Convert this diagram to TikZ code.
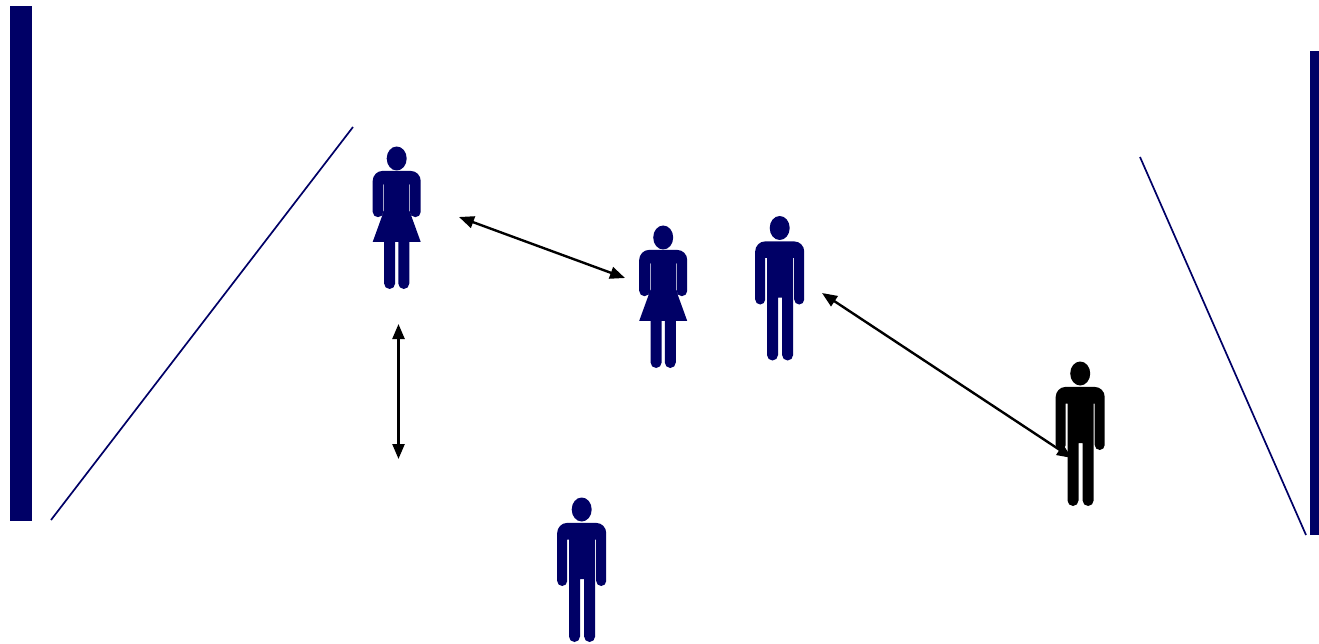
\documentclass[tikz,border=0pt]{standalone}
\usetikzlibrary{arrows.meta}
\definecolor{navy}{HTML}{000066}
\tikzset{
  x=1pt,y=-1pt,
  bar/.style={fill=navy,draw=none},
  wall/.style={draw=navy,line width=1.7pt},
  link/.style={draw=black,line width=2.4pt,{Triangle[length=15pt,width=12pt]}-{Triangle[length=15pt,width=12pt]}},
  pics/woman/.style={code={
    \fill[pic actions] (0,0) ellipse [x radius=10,y radius=12];
    \fill[pic actions] (-14,12.4) -- (14,12.4) arc[start angle=-90,end angle=0,radius=10]
      -- (24,53.4) arc[start angle=0,end angle=180,radius=5.3]
      -- (13.4,26) -- (12.6,26) -- (12.6,52) -- (24,83.4) -- (12.6,83.4) -- (12.6,125)
      arc[start angle=0,end angle=180,radius=5.5] -- (1.6,83.4) -- (-1.6,83.4) -- (-1.6,125)
      arc[start angle=0,end angle=180,radius=5.5] -- (-12.6,83.4) -- (-24,83.4) -- (-12.6,52)
      -- (-12.6,26) -- (-13.4,26) -- (-13.4,53.4)
      arc[start angle=0,end angle=180,radius=5.3] -- (-24,22.4)
      arc[start angle=180,end angle=270,radius=10] -- cycle;
  }},
  pics/man/.style={code={
    \fill[pic actions] (0,0) ellipse [x radius=10,y radius=12];
    \fill[pic actions] (-14.5,13.4) -- (14.5,13.4) arc[start angle=-90,end angle=0,radius=10]
      -- (24.5,71.5) arc[start angle=0,end angle=180,radius=5]
      -- (14.5,30) -- (13.4,30) -- (13.4,127)
      arc[start angle=0,end angle=180,radius=5.5] -- (2.4,69.7) -- (-1.7,69.7) -- (-1.7,127)
      arc[start angle=0,end angle=180,radius=5.5] -- (-12.7,30) -- (-14.5,30) -- (-14.5,71.5)
      arc[start angle=0,end angle=180,radius=5] -- (-24.5,23.4)
      arc[start angle=180,end angle=270,radius=10] -- cycle;
  }},
}
\begin{document}
\begin{tikzpicture}
\useasboundingbox (0,0) rectangle (1319,644);
\fill[bar] (10,6) rectangle (32,521);
\fill[bar] (1310,51) rectangle (1319,535);
\coordinate (wa1) at (51,520); \coordinate (wa2) at (353,127);
\coordinate (wb1) at (1140,157); \coordinate (wb2) at (1306,535);
\draw[wall] (wa1) -- (wa2);
\draw[wall] (wb1) -- (wb2);
\pic[fill=navy] (w1) at (396.7,158.5) {woman};
\pic[fill=navy] (w2) at (663.2,237.5) {woman};
\pic[fill=navy] (m1) at (779.7,228) {man};
\pic[fill=navy] (m2) at (581.7,509.5) {man};
\pic[fill=black] (m3) at (1080.2,373.5) {man};
\coordinate (a1) at (459,217); \coordinate (a2) at (625,278);
\coordinate (b1) at (398.5,324); \coordinate (b2) at (398.5,459);
\coordinate (c1) at (822,293); \coordinate (c2) at (1072,458);
\draw[link] (a1) -- (a2);
\draw[link] (b1) -- (b2);
\draw[link] (c1) -- (c2);
\end{tikzpicture}
\end{document}
